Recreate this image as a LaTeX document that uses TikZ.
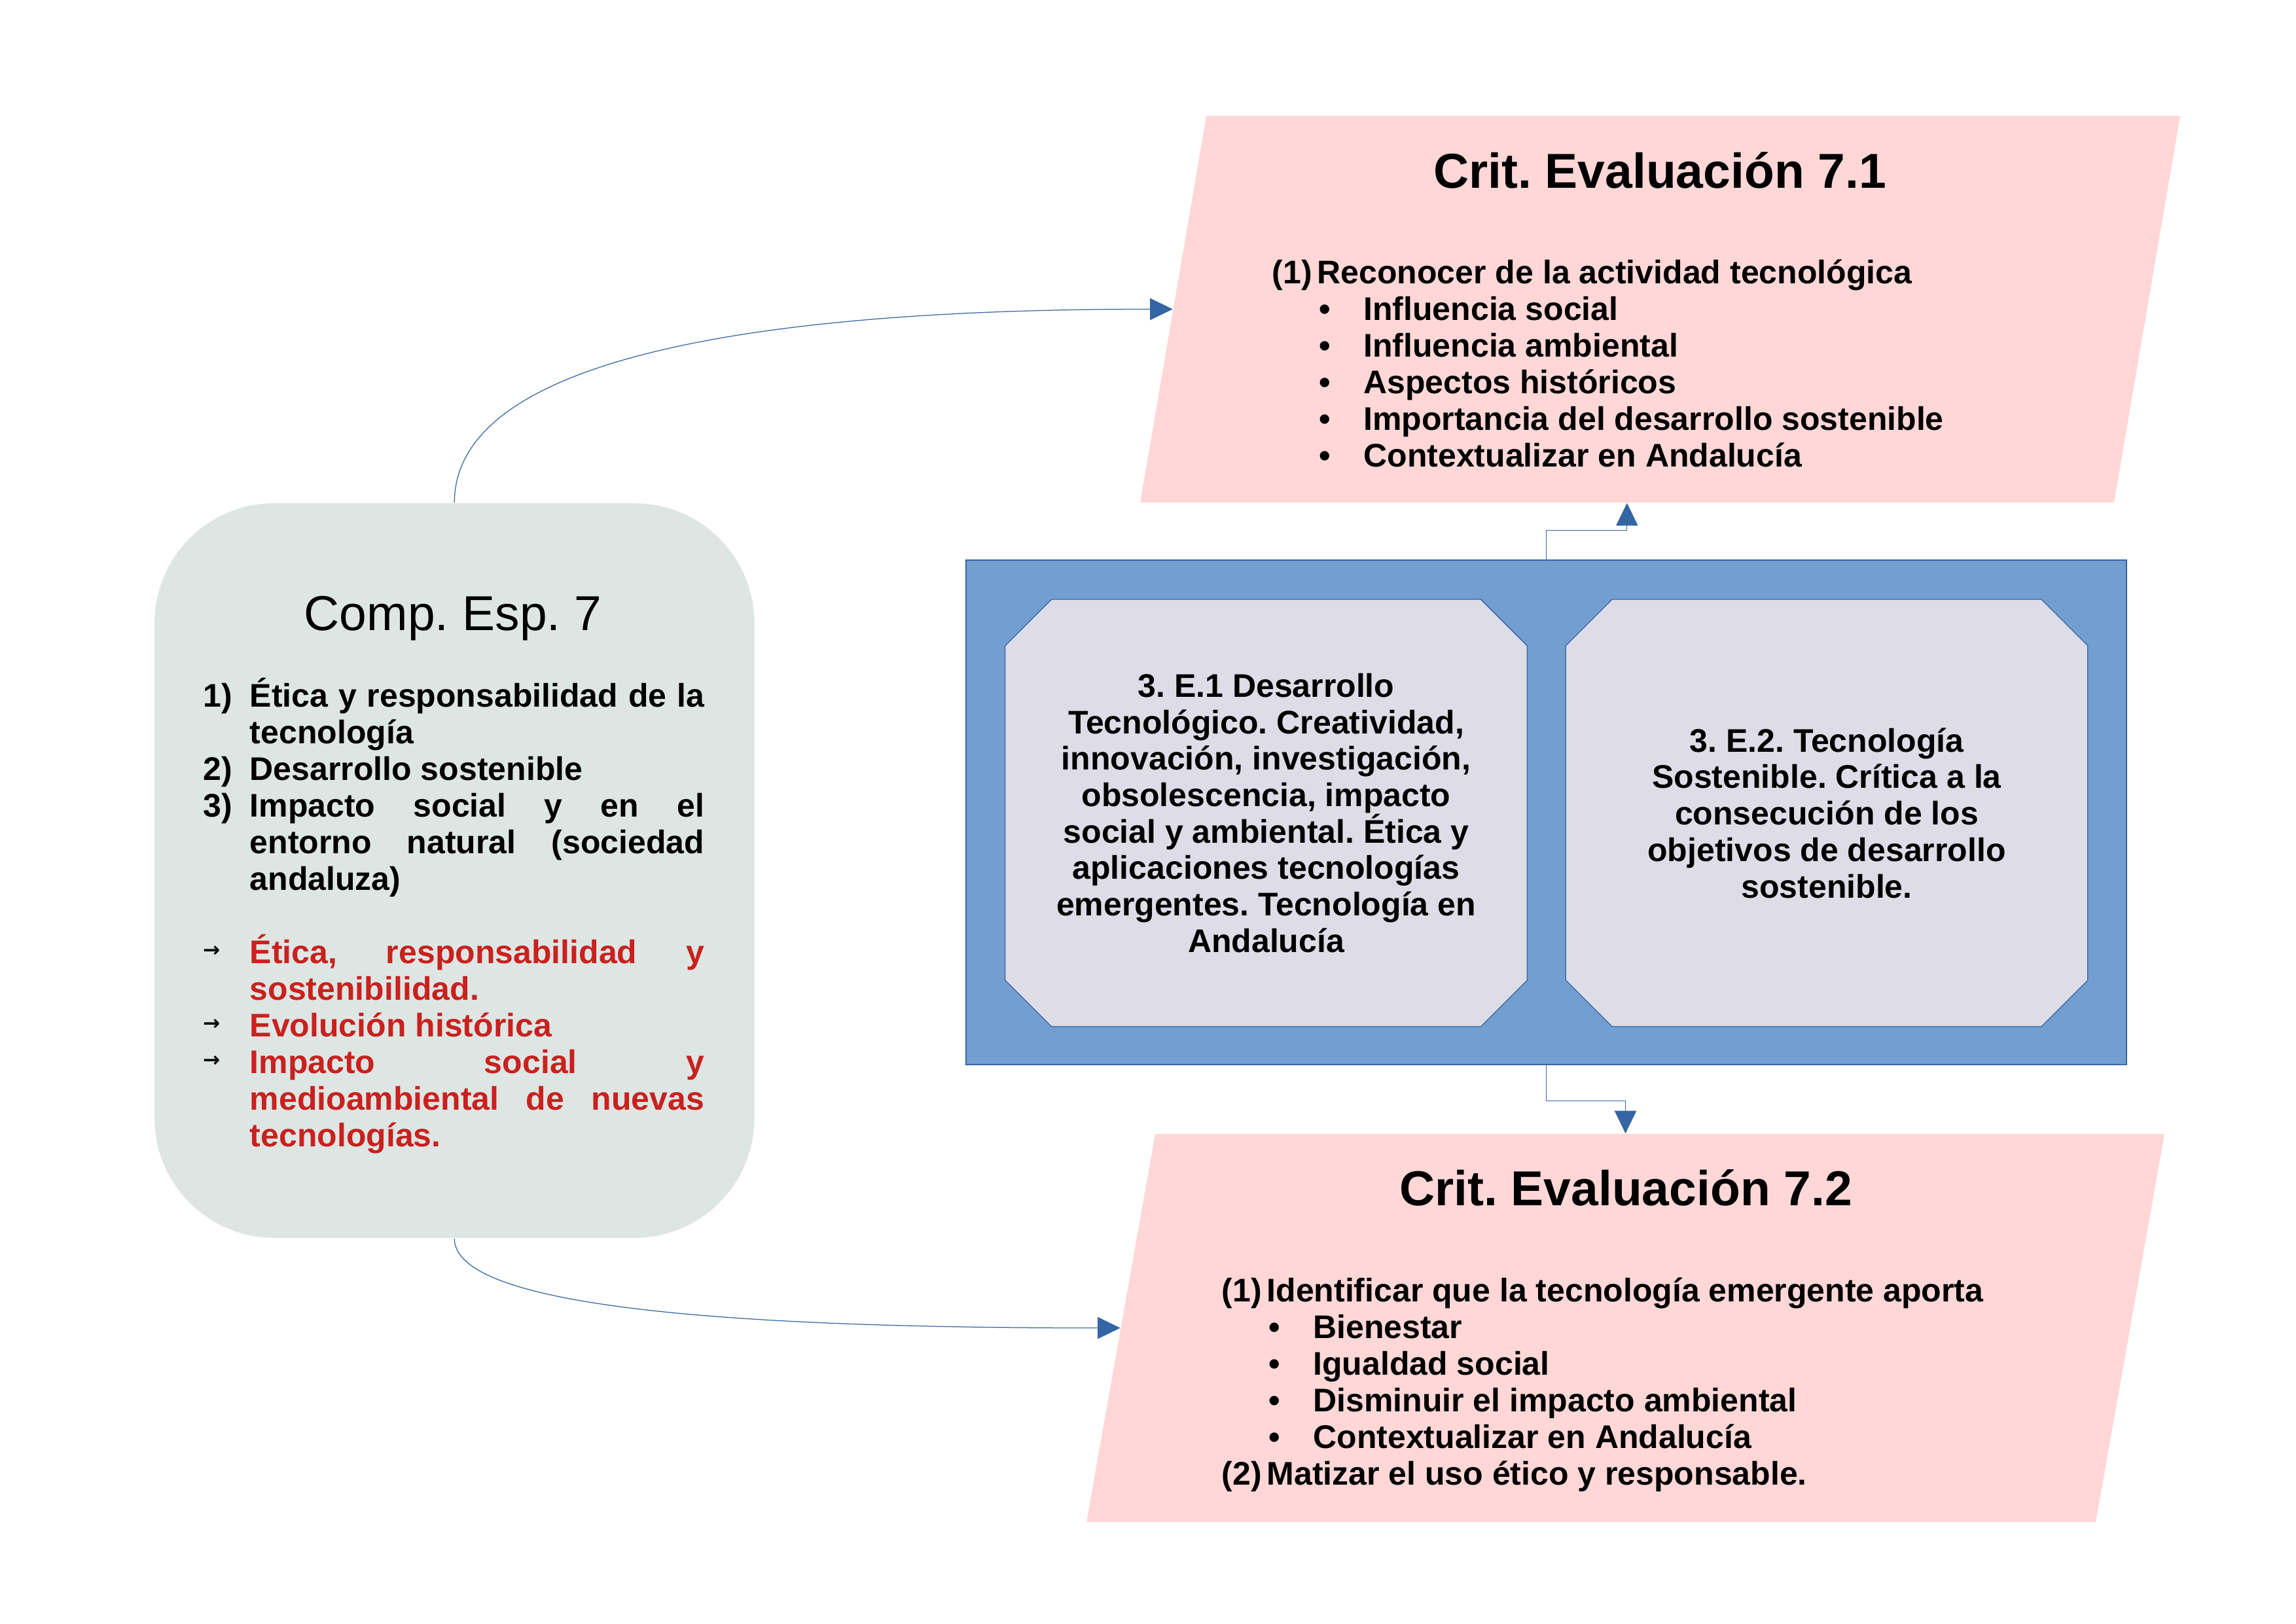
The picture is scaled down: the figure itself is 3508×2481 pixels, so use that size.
\documentclass[tikz,border=0pt]{standalone}
\usepackage{fontspec}
\setmainfont{Liberation Sans}
\newfontfamily\symfont{DejaVu Sans}
\usetikzlibrary{shapes.misc,arrows.meta}
\frenchspacing

\definecolor{rosa}{HTML}{FFD7D7}
\definecolor{gris}{HTML}{DEE6E4}
\definecolor{azul}{HTML}{729FCF}
\definecolor{azuloscuro}{HTML}{3465A4}
\definecolor{malva}{HTML}{DEDCE6}
\definecolor{rojo}{HTML}{C9211E}

\newlength{\numw}\setlength{\numw}{17.04pt}
\newlength{\colw}\setlength{\colw}{166.6pt}
\newcommand{\jline}[1]{\makebox[\colw][s]{#1}}
\newcommand{\flecha}{\makebox[\numw][l]{\raisebox{2.2pt}{\symfont\bfseries\fontsize{7.5}{8}\selectfont →}}}
\newcommand{\numitem}[1]{\makebox[16.5pt][l]{#1}}
\newcommand{\punto}{\hspace*{17.3pt}\makebox[16.2pt][l]{•}}

\tikzset{
  crit/.style={rectangle, fill=rosa, inner sep=0pt, transform shape},
  comp/.style={rectangle, rounded corners=44pt, fill=gris,
    minimum width=220pt, minimum height=269.5pt},
  bloque/.style={rectangle, fill=azul, draw=azuloscuro, line width=0.4pt,
    minimum width=425.5pt, minimum height=185pt},
  saber/.style={chamfered rectangle, chamfered rectangle xsep=8.5pt,
    chamfered rectangle ysep=8.5pt, fill=malva, draw=azuloscuro, line width=0.3pt,
    inner sep=0pt, minimum width=191.4pt, minimum height=156.7pt, align=center,
    font=\fontsize{12}{13.37}\selectfont\bfseries},
  txt/.style={font=\fontsize{12}{13.44}\selectfont\bfseries, inner sep=0pt},
  titulo/.style={font=\fontsize{18}{20}\selectfont\bfseries, inner sep=0pt},
  conn/.style={draw=azuloscuro, line width=0.3pt, -{Triangle[length=8.3pt,width=8pt]}}
}

\begin{document}
\begin{tikzpicture}[x=0.24pt, y=-0.24pt]
    \useasboundingbox (0,0) rectangle (3508,2481);
    \path (2536.5, 472.5) node [crit, xslant=0.171, minimum width=357.1pt, minimum height=141.84pt] (crit71) {};
    \path (2483.5, 2029.5) node [crit, xslant=0.177, minimum width=370.1pt, minimum height=142.3pt] (crit72) {};
    \path (694.3, 1330.5) node [comp] (comp) {};
    \path (2362.5, 1241.5) node [bloque] (saberes) {};
    \path (1934.5, 1242.5) node [saber] (saber1) {3. E.1 Desarrollo\\Tecnológico. Creatividad,\\innovación, investigación,\\obsolescencia, impacto\\social y ambiental. Ética y\\aplicaciones tecnologías\\emergentes. Tecnología en\\Andalucía};
    \path (2791, 1242.5) node [saber] (saber2) {3. E.2. Tecnología\\Sostenible. Crítica a la\\consecución de los\\objetivos de desarrollo\\sostenible.};

    \path (692, 963) node [anchor=base, inner sep=0pt, font=\fontsize{18}{20}\selectfont] (comptit) {Comp. Esp. 7};
    \path (310, 1752) node [txt, anchor=base west, align=left] (complista) {%
      \makebox[\numw][l]{1)}\jline{Ética y responsabilidad de la}\\
      \hspace*{\numw}tecnología\\
      \makebox[\numw][l]{2)}Desarrollo sostenible\\
      \makebox[\numw][l]{3)}\jline{Impacto social y en el}\\
      \hspace*{\numw}\jline{entorno natural (sociedad}\\
      \hspace*{\numw}andaluza)\\[13.44pt]
      \flecha\textcolor{rojo}{\jline{Ética, responsabilidad y}}\\
      \hspace*{\numw}\textcolor{rojo}{sostenibilidad.}\\
      \flecha\textcolor{rojo}{Evolución histórica}\\
      \flecha\textcolor{rojo}{\jline{Impacto social y}}\\
      \hspace*{\numw}\textcolor{rojo}{\jline{medioambiental de nuevas}}\\
      \hspace*{\numw}\textcolor{rojo}{tecnologías.}};

    \path (2536, 287) node [titulo, anchor=base] (crit71tit) {Crit. Evaluación 7.1};
    \path (1943, 713) node [txt, anchor=base west, align=left] (crit71lista) {%
      \numitem{(1)}Reconocer de la actividad tecnológica\\
      \punto Influencia social\\
      \punto Influencia ambiental\\
      \punto Aspectos históricos\\
      \punto Importancia del desarrollo sostenible\\
      \punto Contextualizar en Andalucía};

    \path (2484, 1842) node [titulo, anchor=base] (crit72tit) {Crit. Evaluación 7.2};
    \path (1866, 2269) node [txt, anchor=base west, align=left] (crit72lista) {%
      \numitem{(1)}Identificar que la tecnología emergente aporta\\
      \punto Bienestar\\
      \punto Igualdad social\\
      \punto Disminuir el impacto ambiental\\
      \punto Contextualizar en Andalucía\\
      \numitem{(2)}Matizar el uso ético y responsable.};

    \draw [conn] (saberes.north) -- ++(0,-45) -| (crit71.south);
    \draw [conn] (saberes.south) -- ++(0,55) -| (crit72.center |- crit72.north);
    \draw [conn] (comp.north) .. controls +(0,-207) and +(-692,0) .. (crit71.west);
    \draw [conn] (comp.south) .. controls +(0,90) and +(-712,0) .. (crit72.west);
\end{tikzpicture}
\end{document}
